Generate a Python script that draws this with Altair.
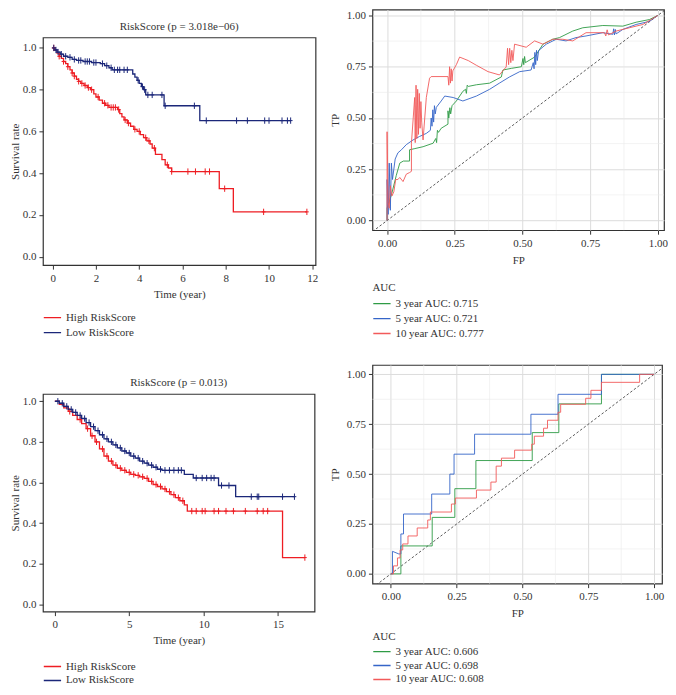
import altair as alt
import pandas as pd
import numpy as np

FONT = "Liberation Serif"
KM_RED = "#EE1D23"
KM_NAVY = "#1B2779"
ROC_GREEN = "#2E9B45"
ROC_BLUE = "#3565C8"
ROC_RED = "#F25A5A"
TXT = "#333333"

GROUPS = ["High RiskScore", "Low RiskScore"]

# ---------------- KM panel 1 ----------------
km1_high_t = [0, 0.1, 0.2, 0.3, 0.4, 0.5, 0.6, 0.7, 0.8, 0.9, 1.0, 1.1, 1.2, 1.3, 1.45, 1.6, 1.75, 1.9, 2.0,
              2.15, 2.3, 2.45, 2.6, 3.0, 3.1, 3.2, 3.3, 3.45, 3.6, 3.75, 3.9, 4.05, 4.2, 4.35, 4.5, 4.6, 4.75,
              5.05, 5.2, 5.35, 5.5, 7.7, 8.35]
km1_high_s = [1.0, 0.99, 0.975, 0.96, 0.95, 0.935, 0.925, 0.91, 0.895, 0.88, 0.865, 0.85, 0.84, 0.83, 0.82,
              0.81, 0.80, 0.78, 0.765, 0.75, 0.735, 0.725, 0.715, 0.705, 0.685, 0.67, 0.655, 0.64, 0.625, 0.61,
              0.60, 0.585, 0.57, 0.555, 0.54, 0.52, 0.49, 0.465, 0.44, 0.425, 0.408, 0.326, 0.215]
km1_high_cens = [0.05, 0.3, 0.5, 0.7, 0.9, 1.0, 1.2, 1.35, 1.5, 1.65, 1.8, 2.1, 2.4, 2.55, 2.7, 2.8, 2.9,
                 3.05, 3.35, 3.5, 3.8, 4.0, 4.3, 4.45, 4.7, 5.3, 5.5, 6.25, 6.6, 7.05, 7.25, 7.95, 9.75, 11.75]
km1_high_end = 11.75

km1_low_t = [0, 0.1, 0.2, 0.35, 0.5, 0.7, 0.9, 1.1, 1.4, 1.8, 2.2, 2.4, 2.6, 2.75, 3.7, 3.8, 3.9, 4.0, 4.1,
             4.2, 4.3, 5.15, 6.8]
km1_low_s = [1.0, 0.99, 0.98, 0.97, 0.96, 0.955, 0.945, 0.94, 0.935, 0.93, 0.925, 0.915, 0.905, 0.895, 0.875,
             0.86, 0.845, 0.83, 0.815, 0.80, 0.775, 0.723, 0.652]
km1_low_cens = [0.05, 0.15, 0.25, 0.4, 0.6, 0.8, 1.0, 1.2, 1.3, 1.5, 1.6, 1.7, 1.9, 2.0, 2.3, 2.5, 2.7, 2.85,
                3.0, 3.1, 3.3, 3.45, 3.95, 4.15, 4.25, 4.4, 4.6, 5.05, 5.2, 6.55, 7.1, 8.5, 9.0, 9.8, 10.0,
                10.6, 10.85, 11.0]
km1_low_end = 11.0

# ---------------- KM panel 2 ----------------
km2_high_t = [0, 0.3, 0.6, 0.9, 1.2, 1.5, 1.8, 2.1, 2.4, 2.7, 3.0, 3.3, 3.6, 3.9, 4.2, 4.5, 4.8, 5.1, 5.4, 5.7,
              6.0, 6.3, 6.6, 6.9, 7.2, 7.5, 7.8, 8.1, 8.4, 8.7, 8.9, 15.3]
km2_high_s = [1.0, 0.985, 0.967, 0.95, 0.93, 0.91, 0.89, 0.865, 0.83, 0.80, 0.765, 0.73, 0.705, 0.685, 0.67,
              0.66, 0.65, 0.64, 0.635, 0.628, 0.62, 0.605, 0.59, 0.58, 0.568, 0.555, 0.54, 0.525, 0.51, 0.49,
              0.459, 0.23]
km2_high_cens = [1.0, 1.7, 2.2, 2.5, 2.8, 3.2, 3.5, 3.8, 4.1, 4.4, 4.7, 5.0, 5.3, 5.6, 5.9, 6.2, 6.5, 6.8, 7.1,
                 7.4, 7.7, 8.0, 8.3, 8.6, 9.2, 9.5, 9.9, 10.1, 10.7, 11.0, 11.5, 12.0, 12.8, 13.6, 14.0, 14.3,
                 16.8]
km2_high_end = 16.8

km2_low_t = [0, 0.3, 0.6, 0.9, 1.2, 1.5, 1.8, 2.1, 2.4, 2.7, 3.0, 3.3, 3.6, 3.9, 4.2, 4.5, 4.8, 5.1, 5.4, 5.7,
             6.0, 6.3, 6.6, 6.9, 7.2, 8.7, 9.3, 11.0, 12.15]
km2_low_s = [1.0, 0.99, 0.975, 0.96, 0.945, 0.93, 0.915, 0.895, 0.875, 0.855, 0.835, 0.815, 0.80, 0.785, 0.77,
             0.755, 0.745, 0.73, 0.72, 0.705, 0.695, 0.685, 0.675, 0.665, 0.66, 0.64, 0.622, 0.585, 0.53]
km2_low_cens = [0.2, 0.5, 0.8, 1.1, 1.4, 1.7, 2.0, 2.3, 2.6, 2.9, 3.2, 3.5, 3.8, 4.1, 4.4, 4.7, 5.0, 5.3, 5.6,
                5.9, 6.2, 6.5, 6.8, 7.1, 7.4, 7.7, 8.0, 8.3, 8.5, 9.5, 9.9, 10.2, 10.5, 10.7, 11.2, 11.7,
                13.2, 13.6, 13.7, 15.3, 16.1]
km2_low_end = 16.1

# ---------------- ROC panel 1 ----------------
roc1_labels = ["3 year AUC: 0.715", "5 year AUC: 0.721", "10 year AUC: 0.777"]
roc1_g_fp = [0, 0.0, 0.005, 0.016, 0.034, 0.047, 0.060, 0.083, 0.083, 0.100, 0.133, 0.17, 0.18, 0.183, 0.186,
             0.19, 0.2, 0.225, 0.225, 0.228, 0.232, 0.235, 0.24, 0.256, 0.28, 0.29, 0.293, 0.296, 0.30, 0.33,
             0.379, 0.422, 0.428, 0.459, 0.496, 0.502, 0.505, 0.508, 0.511, 0.545, 0.576, 0.612, 0.637, 0.686,
             0.723, 0.797, 0.871, 0.92, 0.969, 1.0]
roc1_g_tp = [0, 0.06, 0.08, 0.124, 0.22, 0.28, 0.29, 0.29, 0.345, 0.35, 0.36, 0.377, 0.40, 0.38, 0.44, 0.43,
             0.45, 0.47, 0.535, 0.50, 0.55, 0.52, 0.56, 0.583, 0.63, 0.64, 0.62, 0.66, 0.654, 0.662, 0.67, 0.70,
             0.734, 0.742, 0.75, 0.79, 0.76, 0.80, 0.77, 0.797, 0.86, 0.884, 0.892, 0.924, 0.94, 0.951, 0.948,
             0.967, 0.98, 1.0]
roc1_b_fp = [0, 0.0, 0.004, 0.008, 0.012, 0.016, 0.020, 0.030, 0.040, 0.053, 0.071, 0.096, 0.120, 0.145, 0.160,
             0.163, 0.166, 0.169, 0.172, 0.175, 0.178, 0.182, 0.2, 0.213, 0.244, 0.28, 0.33, 0.379, 0.415, 0.452,
             0.49, 0.532, 0.540, 0.543, 0.546, 0.549, 0.552, 0.555, 0.56, 0.588, 0.625, 0.661, 0.698, 0.735,
             0.797, 0.834, 0.837, 0.840, 0.843, 0.846, 0.871, 0.92, 0.969, 1.0]
roc1_b_tp = [0, 0.2, 0.03, 0.28, 0.05, 0.28, 0.2, 0.3, 0.33, 0.345, 0.37, 0.393, 0.41, 0.425, 0.44, 0.50, 0.46,
             0.54, 0.48, 0.56, 0.52, 0.552, 0.583, 0.607, 0.6, 0.583, 0.607, 0.64, 0.67, 0.70, 0.726, 0.734,
             0.77, 0.74, 0.82, 0.76, 0.83, 0.78, 0.829, 0.86, 0.884, 0.876, 0.892, 0.9, 0.916, 0.908, 0.935,
             0.905, 0.932, 0.91, 0.932, 0.956, 0.971, 1.0]
roc1_r_fp = [0.0, 0.0, 0.004, 0.008, 0.012, 0.018, 0.025, 0.032, 0.040, 0.047, 0.059, 0.071, 0.083, 0.090,
             0.090, 0.102, 0.104, 0.107, 0.110, 0.113, 0.116, 0.119, 0.122, 0.125, 0.128, 0.133, 0.145, 0.157,
             0.163, 0.225, 0.228, 0.231, 0.234, 0.237, 0.240, 0.243, 0.256, 0.268, 0.300, 0.330, 0.373, 0.415,
             0.440, 0.445, 0.449, 0.453, 0.457, 0.461, 0.465, 0.471, 0.514, 0.545, 0.576, 0.612, 0.649, 0.686,
             0.735, 0.803, 0.808, 0.813, 0.818, 0.846, 0.895, 0.945, 1.0]
roc1_r_tp = [0.0, 0.433, 0.09, 0.06, 0.17, 0.12, 0.14, 0.20, 0.20, 0.21, 0.19, 0.226, 0.234, 0.24, 0.377, 0.60,
             0.38, 0.66, 0.40, 0.64, 0.42, 0.62, 0.45, 0.58, 0.48, 0.393, 0.60, 0.694, 0.702, 0.702, 0.66, 0.75,
             0.67, 0.74, 0.68, 0.73, 0.76, 0.797, 0.78, 0.757, 0.726, 0.71, 0.749, 0.84, 0.76, 0.84, 0.77, 0.83,
             0.78, 0.86, 0.845, 0.876, 0.86, 0.884, 0.884, 0.876, 0.916, 0.916, 0.90, 0.93, 0.905, 0.924, 0.94,
             0.956, 1.0]

# ---------------- ROC panel 2 ----------------
roc2_labels = ["3 year AUC: 0.606", "5 year AUC: 0.698", "10 year AUC: 0.608"]
roc2_g_fp = [0.0, 0.038, 0.038, 0.157, 0.157, 0.243, 0.243, 0.323, 0.323, 0.537, 0.537, 0.638, 0.638, 0.8, 0.8, 1.0]
roc2_g_tp = [0.0, 0.0, 0.14, 0.14, 0.283, 0.283, 0.427, 0.427, 0.568, 0.568, 0.708, 0.708, 0.852, 0.852, 1.0, 1.0]
roc2_b_fp = [0.0, 0.006, 0.006, 0.03, 0.038, 0.038, 0.048, 0.048, 0.155, 0.155, 0.224, 0.224, 0.24, 0.24, 0.318,
             0.318, 0.532, 0.532, 0.635, 0.635, 0.8, 0.8, 1.0]
roc2_b_tp = [0.0, 0.0, 0.113, 0.10, 0.10, 0.2, 0.2, 0.3, 0.3, 0.4, 0.4, 0.5, 0.5, 0.6, 0.6, 0.7, 0.7, 0.8, 0.8,
             0.9, 0.9, 1.0, 1.0]
roc2_r_fp = [0.0, 0.01, 0.01, 0.025, 0.025, 0.035, 0.035, 0.045, 0.045, 0.065, 0.065, 0.1, 0.1, 0.14, 0.14, 0.15,
             0.15, 0.23, 0.23, 0.245, 0.245, 0.325, 0.325, 0.38, 0.38, 0.4, 0.4, 0.42, 0.42, 0.47, 0.47, 0.535,
             0.535, 0.545, 0.545, 0.58, 0.58, 0.595, 0.595, 0.635, 0.635, 0.645, 0.645, 0.74, 0.74, 0.76, 0.76,
             0.8, 0.8, 0.945, 0.945, 1.0]
roc2_r_tp = [0.0, 0.0, 0.04, 0.04, 0.08, 0.08, 0.12, 0.12, 0.15, 0.15, 0.19, 0.19, 0.23, 0.23, 0.27, 0.27, 0.31,
             0.31, 0.35, 0.35, 0.38, 0.38, 0.42, 0.42, 0.46, 0.46, 0.54, 0.54, 0.58, 0.58, 0.62, 0.62, 0.65,
             0.65, 0.69, 0.69, 0.73, 0.73, 0.77, 0.77, 0.81, 0.81, 0.85, 0.85, 0.88, 0.88, 0.92, 0.92, 0.96,
             0.96, 1.0, 1.0]

major = [0, 0.25, 0.5, 0.75, 1.0]
minor = [0.125, 0.375, 0.625, 0.875]


def km_frames(groups):
    lines, cens = [], []
    for name, t, s, c, end in groups:
        tt = list(t) + [end]
        ss = list(s) + [s[-1]]
        lines.append(pd.DataFrame({"time": tt, "surv": ss, "group": name}))
        idx = np.searchsorted(np.array(t), np.array(c), side="right") - 1
        cens.append(pd.DataFrame({"time": c, "surv": [s[i] for i in idx], "group": name}))
    return pd.concat(lines, ignore_index=True), pd.concat(cens, ignore_index=True)


def km_chart(groups, xdom, ydom, xticks, w, h, title, legx, legy, rowh):
    ldf, cdf = km_frames(groups)
    x = alt.X("time:Q", scale=alt.Scale(domain=xdom, nice=False, zero=False),
              axis=alt.Axis(values=xticks, title="Time (year)", format="d", grid=False, titlePadding=5))
    y = alt.Y("surv:Q", scale=alt.Scale(domain=ydom, nice=False, zero=False),
              axis=alt.Axis(values=[0, 0.2, 0.4, 0.6, 0.8, 1.0], format=".1f", title="Survival rate",
                            grid=False, titlePadding=2))
    lines = alt.Chart(ldf).mark_line(interpolate="step-after", strokeWidth=1.3, clip=True).encode(
        x=x, y=y,
        color=alt.Color("group:N", scale=alt.Scale(domain=GROUPS, range=[KM_RED, KM_NAVY]),
                        legend=alt.Legend(title=None, orient="none", legendX=legx, legendY=legy,
                                          symbolType="stroke", symbolSize=300, symbolStrokeWidth=1.3,
                                          clipHeight=rowh, rowPadding=0, labelOffset=4)))
    pts = alt.Chart(cdf).mark_point(shape="M0,-1L0,1M-0.6,0L0.6,0", size=40, strokeWidth=1, filled=False,
                                    opacity=1).encode(
        x=x, y=y,
        stroke=alt.Stroke("group:N", scale=alt.Scale(domain=GROUPS, range=[KM_RED, KM_NAVY]), legend=None))
    return alt.layer(lines, pts).properties(width=w, height=h, title=title)


def roc_chart(labels, curves, xdom, ydom, w, h, legx, legy, rowh):
    frames = []
    for lab, (fp, tp) in zip(labels, curves):
        frames.append(pd.DataFrame({"fp": fp, "tp": tp, "curve": lab, "i": range(len(fp))}))
    df = pd.concat(frames, ignore_index=True)
    xs = alt.Scale(domain=xdom, nice=False, zero=False)
    ys = alt.Scale(domain=ydom, nice=False, zero=False)
    xax = alt.Axis(values=major, format=".2f", title="FP", grid=True, gridColor="#DCDCDC", titlePadding=6)
    yax = alt.Axis(values=major, format=".2f", title="TP", grid=True, gridColor="#DCDCDC", titlePadding=6)
    vminor = alt.Chart(pd.DataFrame({"v": minor})).mark_rule(color="#EBEBEB", strokeWidth=0.6).encode(
        x=alt.X("v:Q", scale=xs, axis=xax))
    hminor = alt.Chart(pd.DataFrame({"v": minor})).mark_rule(color="#EBEBEB", strokeWidth=0.6).encode(
        y=alt.Y("v:Q", scale=ys, axis=yax))
    lo = min(xdom[0], ydom[0])
    hi = max(xdom[1], ydom[1])
    diag = alt.Chart(pd.DataFrame({"fp": [lo, hi], "tp": [lo, hi]})).mark_line(
        color="#333333", strokeWidth=0.8, strokeDash=[2.5, 2], clip=True).encode(
        x=alt.X("fp:Q", scale=xs, axis=xax), y=alt.Y("tp:Q", scale=ys, axis=yax))
    lines = alt.Chart(df).mark_line(strokeWidth=0.9, clip=True).encode(
        x=alt.X("fp:Q", scale=xs, axis=xax), y=alt.Y("tp:Q", scale=ys, axis=yax),
        order="i:Q",
        color=alt.Color("curve:N", scale=alt.Scale(domain=labels, range=[ROC_GREEN, ROC_BLUE, ROC_RED]),
                        legend=alt.Legend(title="AUC", orient="none", legendX=legx, legendY=legy,
                                          symbolType="stroke", symbolSize=300, symbolStrokeWidth=1.3,
                                          clipHeight=rowh, rowPadding=0, labelOffset=4, titlePadding=3)))
    return alt.layer(vminor, hminor, diag, lines).properties(width=w, height=h)


km1 = km_chart([("High RiskScore", km1_high_t, km1_high_s, km1_high_cens, km1_high_end),
                ("Low RiskScore", km1_low_t, km1_low_s, km1_low_cens, km1_low_end)],
               [-0.45, 12.15], [-0.04, 1.05], [0, 2, 4, 6, 8, 10, 12], 273, 228,
               alt.Title("RiskScore (p = 3.018e\u221206)", offset=5), 0, 273, 15)
km2 = km_chart([("High RiskScore", km2_high_t, km2_high_s, km2_high_cens, km2_high_end),
                ("Low RiskScore", km2_low_t, km2_low_s, km2_low_cens, km2_low_end)],
               [-0.8, 17.45], [-0.036, 1.036], [0, 5, 10, 15], 272, 218,
               alt.Title("RiskScore (p = 0.013)", offset=6), 0, 266, 14)
roc1 = roc_chart(roc1_labels, [(roc1_g_fp, roc1_g_tp), (roc1_b_fp, roc1_b_tp), (roc1_r_fp, roc1_r_tp)],
                 [-0.054, 1.023], [-0.047, 1.029], 292, 221, 0, 273, 15)
roc2 = roc_chart(roc2_labels, [(roc2_g_fp, roc2_g_tp), (roc2_b_fp, roc2_b_tp), (roc2_r_fp, roc2_r_tp)],
                 [-0.07, 1.03], [-0.049, 1.047], 290, 219, 0, 266, 14)

spacer = alt.Chart(pd.DataFrame({"a": [0]})).mark_point(opacity=0).encode(
    x=alt.X("a:Q", axis=None), y=alt.Y("a:Q", axis=None)
).properties(width=200, height=11, view=alt.ViewBackground(stroke=None))

inner = alt.vconcat(km1, km2, spacing=35).resolve_scale(
    color="independent", stroke="independent").resolve_legend(color="independent")
left = alt.vconcat(spacer, inner, spacing=0).resolve_scale(
    color="independent", stroke="independent").resolve_legend(color="independent")
right = alt.vconcat(roc1, roc2, spacing=22).resolve_scale(color="independent").resolve_legend(color="independent")
chart = alt.hconcat(left, right, spacing=10).resolve_scale(
    color="independent", stroke="independent").resolve_legend(color="independent").properties(
    padding=0).configure_view(
    stroke="#333333", strokeWidth=1.2
).configure_axis(
    labelFont=FONT, titleFont=FONT, labelFontSize=11, titleFontSize=11, labelColor=TXT, titleColor=TXT,
    titleFontWeight="normal", domain=False, tickColor="#333333", tickSize=4, labelPadding=3
).configure_title(
    font=FONT, fontSize=11, fontWeight="normal", color=TXT, anchor="middle"
).configure_legend(
    labelFont=FONT, titleFont=FONT, labelFontSize=11, titleFontSize=11, labelColor=TXT, titleColor=TXT,
    titleFontWeight="normal"
)

chart.save("out.html", embed_options={"renderer": "svg", "actions": False})
